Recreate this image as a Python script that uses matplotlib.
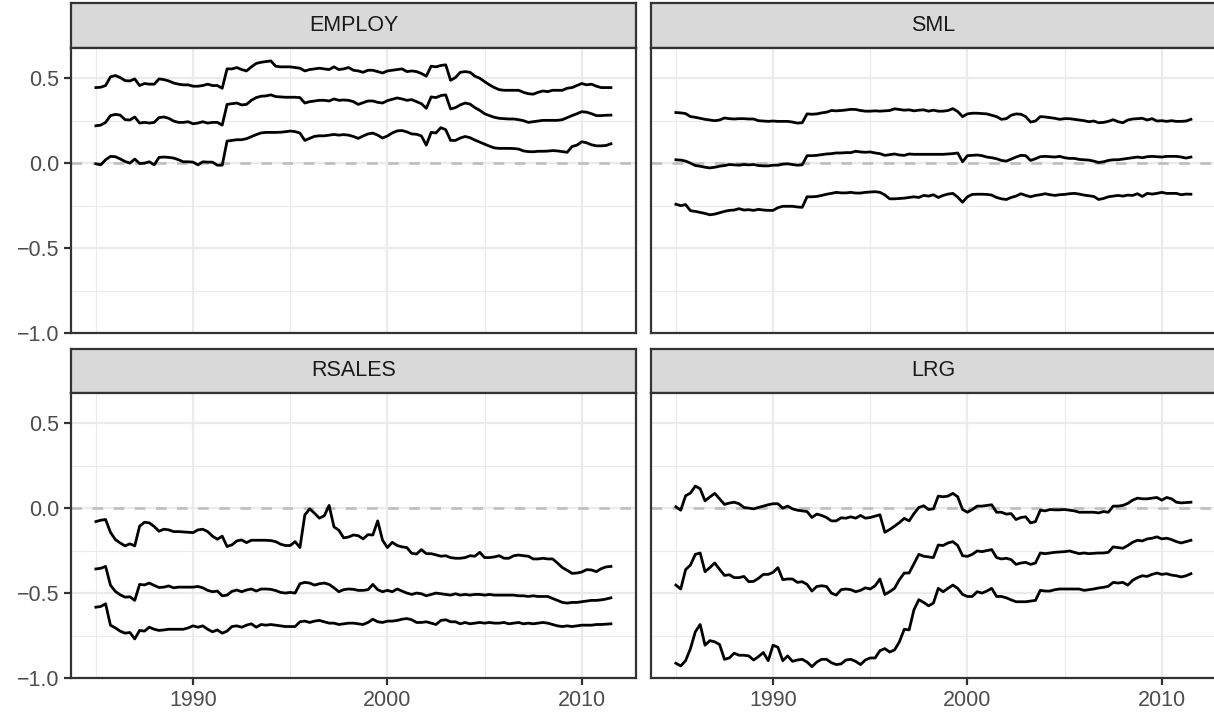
import numpy as np
import matplotlib
matplotlib.use("Agg")
import matplotlib.pyplot as plt

plt.rcParams['font.family'] = ['Liberation Sans', 'DejaVu Sans']

start_year = 1985.0
panels = ["EMPLOY", "SML", "RSALES", "LRG"]

employ_hi = [0.445,0.447,0.457,0.508,0.516,0.504,0.486,0.484,0.496,0.457,0.469,0.465,0.465,0.496,0.492,0.484,0.472,0.465,0.461,0.461,
0.453,0.453,0.457,0.465,0.457,0.457,0.441,0.555,0.555,0.563,0.551,0.543,0.567,0.587,0.594,0.598,0.602,0.571,0.567,0.567,
0.567,0.563,0.559,0.543,0.551,0.555,0.559,0.555,0.551,0.567,0.551,0.555,0.563,0.547,0.543,0.535,0.547,0.547,0.539,0.531,
0.543,0.547,0.551,0.555,0.539,0.543,0.539,0.528,0.512,0.571,0.567,0.575,0.579,0.488,0.504,0.535,0.539,0.535,0.512,0.500,
0.480,0.461,0.445,0.433,0.429,0.429,0.429,0.429,0.417,0.409,0.406,0.417,0.425,0.421,0.429,0.429,0.429,0.441,0.445,0.457,
0.469,0.461,0.465,0.453,0.445,0.445,0.445]
employ_mid = [0.220,0.224,0.240,0.280,0.287,0.283,0.256,0.254,0.272,0.236,0.240,0.236,0.240,0.268,0.272,0.264,0.248,0.240,0.240,0.244,
0.232,0.236,0.244,0.236,0.240,0.240,0.224,0.346,0.350,0.354,0.343,0.346,0.370,0.386,0.394,0.396,0.402,0.392,0.390,0.388,
0.388,0.388,0.386,0.354,0.362,0.366,0.370,0.370,0.366,0.378,0.370,0.372,0.370,0.362,0.346,0.356,0.366,0.366,0.358,0.354,
0.368,0.376,0.384,0.378,0.370,0.374,0.362,0.350,0.323,0.390,0.386,0.398,0.402,0.319,0.327,0.343,0.354,0.348,0.327,0.311,
0.291,0.280,0.270,0.264,0.262,0.260,0.260,0.256,0.250,0.240,0.244,0.248,0.252,0.252,0.252,0.252,0.256,0.268,0.280,0.291,
0.303,0.300,0.291,0.280,0.280,0.282,0.283]
employ_lo = [-0.004,-0.010,0.020,0.040,0.038,0.025,0.010,0.000,0.024,-0.002,0.000,0.008,-0.010,0.034,0.036,0.034,0.030,0.020,0.008,0.008,
0.006,-0.010,0.008,0.006,0.006,-0.012,-0.012,0.130,0.134,0.138,0.138,0.144,0.156,0.168,0.178,0.181,0.181,0.181,0.182,0.185,
0.189,0.186,0.177,0.134,0.146,0.158,0.161,0.161,0.165,0.169,0.165,0.168,0.165,0.157,0.146,0.160,0.172,0.177,0.165,0.148,
0.160,0.178,0.190,0.192,0.184,0.172,0.170,0.160,0.106,0.181,0.178,0.209,0.197,0.134,0.134,0.148,0.157,0.150,0.136,0.124,
0.112,0.100,0.090,0.087,0.087,0.087,0.086,0.083,0.072,0.068,0.067,0.070,0.070,0.071,0.074,0.072,0.068,0.064,0.098,0.106,
0.126,0.120,0.108,0.102,0.102,0.104,0.114]

sml_hi = [0.298,0.296,0.292,0.274,0.270,0.264,0.258,0.254,0.250,0.254,0.266,0.262,0.260,0.262,0.262,0.260,0.260,0.250,0.248,0.246,
0.248,0.246,0.246,0.246,0.242,0.236,0.238,0.290,0.288,0.290,0.296,0.300,0.310,0.308,0.310,0.313,0.317,0.316,0.310,0.306,
0.306,0.308,0.306,0.308,0.310,0.320,0.316,0.312,0.314,0.308,0.312,0.314,0.306,0.312,0.306,0.306,0.310,0.321,0.304,0.274,
0.290,0.294,0.294,0.292,0.290,0.282,0.274,0.258,0.262,0.282,0.290,0.288,0.274,0.242,0.248,0.274,0.272,0.268,0.264,0.258,
0.262,0.262,0.258,0.254,0.250,0.244,0.248,0.238,0.240,0.246,0.256,0.244,0.238,0.254,0.260,0.262,0.264,0.254,0.262,0.248,
0.250,0.246,0.250,0.246,0.246,0.248,0.258]
sml_mid = [0.020,0.018,0.012,0.000,-0.014,-0.018,-0.024,-0.028,-0.024,-0.018,-0.014,-0.008,-0.010,-0.012,-0.008,-0.010,-0.008,-0.014,-0.016,-0.016,
-0.012,-0.012,-0.006,-0.004,-0.008,-0.012,-0.010,0.044,0.044,0.046,0.050,0.054,0.056,0.060,0.060,0.062,0.062,0.070,0.066,0.064,
0.066,0.060,0.056,0.046,0.050,0.054,0.048,0.046,0.054,0.052,0.052,0.052,0.052,0.052,0.052,0.052,0.054,0.056,0.060,0.008,
0.044,0.046,0.048,0.044,0.036,0.032,0.026,0.016,0.012,0.024,0.036,0.046,0.044,0.016,0.026,0.038,0.040,0.038,0.036,0.040,
0.032,0.028,0.028,0.022,0.020,0.018,0.012,0.004,0.008,0.016,0.020,0.020,0.024,0.028,0.032,0.036,0.032,0.038,0.040,0.038,
0.036,0.040,0.040,0.040,0.036,0.030,0.036]
sml_lo = [-0.242,-0.250,-0.244,-0.280,-0.284,-0.290,-0.296,-0.304,-0.300,-0.292,-0.284,-0.278,-0.276,-0.268,-0.276,-0.274,-0.278,-0.272,-0.276,-0.278,
-0.278,-0.262,-0.254,-0.254,-0.254,-0.258,-0.260,-0.198,-0.198,-0.196,-0.190,-0.183,-0.178,-0.172,-0.175,-0.175,-0.172,-0.176,-0.176,-0.172,
-0.170,-0.168,-0.172,-0.187,-0.210,-0.210,-0.208,-0.206,-0.202,-0.198,-0.202,-0.190,-0.194,-0.186,-0.202,-0.190,-0.182,-0.178,-0.200,-0.230,
-0.198,-0.184,-0.183,-0.183,-0.184,-0.188,-0.202,-0.210,-0.214,-0.202,-0.194,-0.180,-0.190,-0.198,-0.190,-0.186,-0.180,-0.186,-0.190,-0.186,
-0.184,-0.180,-0.178,-0.182,-0.188,-0.192,-0.196,-0.214,-0.208,-0.198,-0.194,-0.190,-0.194,-0.188,-0.190,-0.180,-0.196,-0.178,-0.182,-0.178,
-0.172,-0.178,-0.178,-0.178,-0.186,-0.182,-0.183]

rsales_hi = [-0.079,-0.071,-0.067,-0.142,-0.185,-0.205,-0.222,-0.210,-0.222,-0.106,-0.083,-0.087,-0.108,-0.136,-0.124,-0.128,-0.138,-0.138,-0.140,-0.142,
-0.144,-0.128,-0.124,-0.138,-0.165,-0.183,-0.165,-0.226,-0.216,-0.193,-0.187,-0.203,-0.189,-0.189,-0.189,-0.189,-0.191,-0.197,-0.212,-0.220,
-0.220,-0.197,-0.232,-0.040,-0.004,-0.030,-0.059,-0.045,0.016,-0.110,-0.130,-0.175,-0.170,-0.158,-0.162,-0.181,-0.156,-0.158,-0.075,-0.189,
-0.232,-0.201,-0.220,-0.228,-0.232,-0.266,-0.270,-0.244,-0.268,-0.268,-0.275,-0.283,-0.280,-0.291,-0.295,-0.295,-0.291,-0.280,-0.283,-0.260,
-0.291,-0.291,-0.287,-0.280,-0.295,-0.295,-0.280,-0.276,-0.280,-0.283,-0.299,-0.299,-0.295,-0.299,-0.299,-0.323,-0.350,-0.366,-0.384,-0.382,
-0.376,-0.362,-0.364,-0.374,-0.356,-0.346,-0.343]
rsales_mid = [-0.358,-0.354,-0.343,-0.453,-0.490,-0.510,-0.524,-0.522,-0.543,-0.449,-0.452,-0.441,-0.455,-0.467,-0.465,-0.458,-0.469,-0.465,-0.465,-0.465,
-0.465,-0.461,-0.469,-0.484,-0.492,-0.488,-0.516,-0.512,-0.490,-0.482,-0.492,-0.482,-0.476,-0.488,-0.476,-0.476,-0.478,-0.485,-0.496,-0.500,
-0.496,-0.500,-0.445,-0.437,-0.441,-0.453,-0.445,-0.441,-0.449,-0.469,-0.492,-0.480,-0.476,-0.478,-0.484,-0.484,-0.480,-0.449,-0.480,-0.492,
-0.484,-0.492,-0.476,-0.488,-0.500,-0.508,-0.500,-0.504,-0.516,-0.508,-0.500,-0.504,-0.508,-0.512,-0.504,-0.512,-0.508,-0.512,-0.508,-0.508,
-0.512,-0.508,-0.512,-0.512,-0.512,-0.512,-0.512,-0.516,-0.516,-0.520,-0.516,-0.520,-0.520,-0.520,-0.532,-0.543,-0.555,-0.559,-0.555,-0.555,
-0.551,-0.547,-0.543,-0.543,-0.540,-0.535,-0.528]
rsales_lo = [-0.583,-0.579,-0.563,-0.689,-0.705,-0.724,-0.736,-0.732,-0.770,-0.720,-0.724,-0.701,-0.713,-0.720,-0.717,-0.713,-0.713,-0.713,-0.713,-0.705,
-0.693,-0.701,-0.693,-0.713,-0.728,-0.717,-0.736,-0.724,-0.697,-0.693,-0.701,-0.689,-0.681,-0.701,-0.685,-0.689,-0.685,-0.689,-0.693,-0.697,
-0.697,-0.697,-0.669,-0.665,-0.673,-0.665,-0.661,-0.669,-0.677,-0.677,-0.685,-0.681,-0.677,-0.677,-0.681,-0.685,-0.673,-0.654,-0.669,-0.673,
-0.665,-0.665,-0.661,-0.654,-0.650,-0.657,-0.673,-0.673,-0.669,-0.677,-0.685,-0.661,-0.657,-0.669,-0.669,-0.681,-0.673,-0.681,-0.677,-0.673,
-0.677,-0.673,-0.677,-0.677,-0.673,-0.681,-0.677,-0.673,-0.681,-0.677,-0.681,-0.677,-0.673,-0.677,-0.685,-0.693,-0.697,-0.693,-0.697,-0.693,
-0.689,-0.689,-0.689,-0.685,-0.685,-0.683,-0.681]

lrg_hi = [0.008,-0.012,0.073,0.089,0.130,0.114,0.043,0.066,0.087,0.055,0.022,0.030,0.035,0.026,0.004,0.000,-0.004,0.004,0.012,0.020,
0.026,0.026,0.000,0.012,-0.004,-0.012,-0.016,-0.020,-0.055,-0.035,-0.043,-0.055,-0.075,-0.075,-0.057,-0.059,-0.051,-0.059,-0.043,-0.059,
-0.055,-0.047,-0.039,-0.142,-0.126,-0.106,-0.085,-0.060,-0.075,-0.032,0.004,0.014,-0.008,-0.004,0.071,0.067,0.071,0.087,0.067,-0.008,
-0.024,-0.008,0.012,0.012,0.016,0.020,-0.024,-0.024,-0.035,-0.032,-0.067,-0.055,-0.051,-0.087,-0.079,-0.012,-0.016,-0.008,-0.010,-0.010,
-0.008,-0.012,-0.016,-0.024,-0.024,-0.024,-0.024,-0.028,-0.020,-0.024,0.012,0.012,0.016,0.028,0.047,0.059,0.055,0.055,0.059,0.063,
0.047,0.063,0.055,0.035,0.031,0.033,0.035]
lrg_mid = [-0.453,-0.476,-0.362,-0.335,-0.272,-0.264,-0.374,-0.350,-0.323,-0.360,-0.396,-0.392,-0.409,-0.409,-0.402,-0.433,-0.431,-0.413,-0.390,-0.390,
-0.378,-0.350,-0.421,-0.417,-0.417,-0.437,-0.433,-0.449,-0.488,-0.461,-0.457,-0.461,-0.500,-0.512,-0.480,-0.476,-0.480,-0.492,-0.484,-0.469,
-0.476,-0.457,-0.417,-0.508,-0.492,-0.472,-0.421,-0.382,-0.382,-0.327,-0.272,-0.283,-0.287,-0.291,-0.217,-0.220,-0.205,-0.197,-0.220,-0.280,
-0.284,-0.272,-0.252,-0.256,-0.250,-0.244,-0.291,-0.299,-0.295,-0.303,-0.331,-0.323,-0.319,-0.331,-0.323,-0.264,-0.268,-0.264,-0.260,-0.258,
-0.256,-0.252,-0.260,-0.268,-0.264,-0.268,-0.266,-0.264,-0.264,-0.260,-0.228,-0.232,-0.236,-0.220,-0.201,-0.189,-0.193,-0.181,-0.177,-0.169,
-0.181,-0.177,-0.185,-0.197,-0.205,-0.197,-0.189]
lrg_lo = [-0.913,-0.929,-0.898,-0.827,-0.728,-0.685,-0.807,-0.780,-0.787,-0.803,-0.890,-0.882,-0.854,-0.866,-0.866,-0.870,-0.894,-0.874,-0.850,-0.898,
-0.807,-0.819,-0.898,-0.870,-0.902,-0.894,-0.890,-0.906,-0.933,-0.906,-0.890,-0.890,-0.910,-0.921,-0.917,-0.894,-0.890,-0.902,-0.921,-0.894,
-0.882,-0.882,-0.839,-0.827,-0.847,-0.835,-0.787,-0.713,-0.717,-0.598,-0.539,-0.555,-0.575,-0.559,-0.472,-0.492,-0.472,-0.453,-0.472,-0.508,
-0.520,-0.520,-0.492,-0.500,-0.488,-0.472,-0.520,-0.520,-0.528,-0.540,-0.551,-0.551,-0.551,-0.547,-0.543,-0.484,-0.488,-0.488,-0.480,-0.476,
-0.476,-0.476,-0.476,-0.476,-0.484,-0.480,-0.476,-0.470,-0.466,-0.460,-0.437,-0.441,-0.437,-0.453,-0.425,-0.409,-0.398,-0.402,-0.390,-0.382,
-0.390,-0.386,-0.394,-0.398,-0.405,-0.398,-0.386]

series = {
    "EMPLOY": [employ_hi, employ_mid, employ_lo],
    "SML": [sml_hi, sml_mid, sml_lo],
    "RSALES": [rsales_hi, rsales_mid, rsales_lo],
    "LRG": [lrg_hi, lrg_mid, lrg_lo],
}

x_major = [1990, 2000, 2010]
x_minor = [1985, 1995, 2005]
x_labels = ["1990", "2000", "2010"]
y_major = [-1.0, -0.5, 0.0, 0.5]
y_minor = [-0.75, -0.25, 0.25]
y_labels = ["\u22121.0", "\u22120.5", "0.0", "0.5"]

W, H = 1214, 715
fig = plt.figure(figsize=(W / 100, H / 100), dpi=100)

def px_axes(x0, y0, x1, y1):
    return fig.add_axes([x0 / W, 1 - y1 / H, (x1 - x0) / W, (y1 - y0) / H])

cols = [(71, 636), (651, 1216)]
rows = [(3, 48, 333), (349, 393, 678)]
border = '#333333'
grid = '#EBEBEB'

for k, name in enumerate(panels):
    r, c = divmod(k, 2)
    x0, x1 = cols[c]
    s0, p0, p1 = rows[r]
    # strip
    sax = px_axes(x0, s0, x1, p0)
    sax.set_facecolor('#D9D9D9')
    sax.set_xticks([]); sax.set_yticks([])
    for sp in sax.spines.values():
        sp.set_color(border); sp.set_linewidth(1.6)
    sax.text(0.5, 0.5, name, ha='center', va='center', fontsize=15.5,
             color='#1A1A1A', transform=sax.transAxes)
    # panel
    ax = px_axes(x0, p0, x1, p1)
    ax.set_xlim(1983.72, 2012.79)
    ax.set_ylim(-1.0, 0.678)
    for v in x_minor:
        ax.axvline(v, color=grid, lw=0.8, zorder=0)
    for v in y_minor:
        ax.axhline(v, color=grid, lw=0.8, zorder=0)
    for v in x_major:
        ax.axvline(v, color=grid, lw=1.6, zorder=0)
    for v in y_major:
        ax.axhline(v, color=grid, lw=1.6, zorder=0)
    ax.axhline(0.0, color='#BEBEBE', lw=1.9, linestyle=(0, (4, 4)), zorder=1)
    for vals in series[name]:
        yrs = start_year + 0.25 * np.arange(len(vals))
        ax.plot(yrs, vals, color='black', lw=2.0, zorder=2, solid_joinstyle='round')
    for sp in ax.spines.values():
        sp.set_color(border); sp.set_linewidth(1.6)
    ax.set_xticks(x_major)
    ax.set_yticks(y_major)
    ax.tick_params(axis='both', length=4.8, width=1.6, color=border,
                   labelsize=15.5, labelcolor='#4D4D4D', pad=3.8)
    if r == 1:
        ax.set_xticklabels(x_labels)
    else:
        ax.tick_params(axis='x', length=0, labelbottom=False)
    if c == 0:
        ax.set_yticklabels(y_labels)
    else:
        ax.tick_params(axis='y', length=0, labelleft=False)

fig.savefig('out.png', dpi=100)
